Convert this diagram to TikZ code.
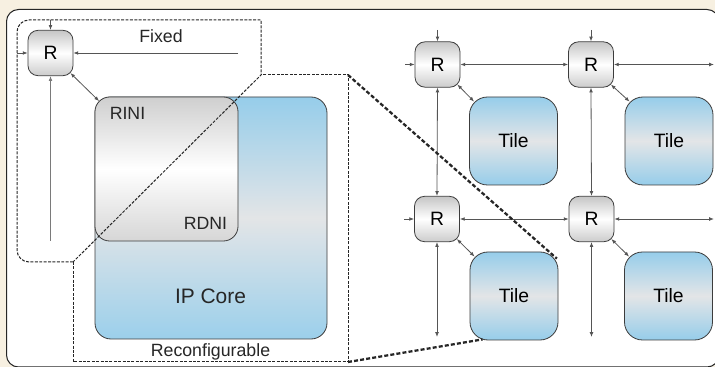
\documentclass[tikz,border=0pt]{standalone}
\usepackage{fontspec}
\setmainfont{Liberation Sans}
\usetikzlibrary{arrows.meta,calc}

\definecolor{cream}{HTML}{F7F0E1}
\definecolor{coreblue}{HTML}{96CDEA}
\definecolor{corelight}{HTML}{E3E5E7}
\definecolor{edgegray}{HTML}{3C3C3C}
\definecolor{wiregray}{HTML}{555555}
\definecolor{palewire}{HTML}{7A7A7A}

\begin{document}
\begin{tikzpicture}[x=0.75pt,y=-0.75pt,
  router/.style={draw=edgegray, line width=0.6pt, rounded corners=7.5pt,
    minimum width=33.75pt, minimum height=34pt, inner sep=0pt,
    top color=gray!45, bottom color=gray!40, middle color=white,
    font=\fontsize{14.5}{17}\selectfont},
  tilebox/.style={draw=edgegray, line width=0.6pt, rounded corners=13.5pt,
    minimum width=66pt, minimum height=66pt, inner sep=0pt,
    top color=coreblue, bottom color=coreblue, middle color=corelight,
    font=\fontsize{14.5}{17}\selectfont},
  corebox/.style={draw=edgegray, line width=0.6pt, rounded corners=12pt,
    minimum width=174pt, minimum height=181.5pt, inner sep=0pt,
    top color=coreblue, bottom color=coreblue!95!white, middle color=corelight},
  nibox/.style={draw=edgegray, line width=0.6pt, rounded corners=11pt,
    minimum width=107.25pt, minimum height=108pt, inner sep=0pt,
    top color=gray!38, bottom color=gray!32, middle color=white},
  label/.style={inner sep=0pt, text=black!85, font=\fontsize{13.3}{16}\selectfont},
  bigtext/.style={inner sep=0pt, text=black!85, font=\fontsize{15.7}{18}\selectfont},
  wire/.style={draw=wiregray, line width=0.6pt},
  one/.style={wire, -{Latex[length=3.6pt,width=2.8pt]}},
  two/.style={wire, {Latex[length=3.6pt,width=2.8pt]}-{Latex[length=3.6pt,width=2.8pt]}},
  region/.style={draw=black!85, line width=0.75pt, dash pattern=on 2.2pt off 1.1pt},
  zoomline/.style={draw=black!85, line width=1.7pt, dash pattern=on 3pt off 1.6pt}
]
\useasboundingbox (0,0) rectangle (715,367);
\clip (0,0) rectangle (715,367);

% page background and white panel
\fill[cream] (0,0) rectangle (715,367);
\draw[fill=white, draw=black!85, line width=0.75pt, rounded corners=9pt]
  (6.5,9.5) rectangle (719,367);

% ---------------- left: one tile in detail ----------------
\node[corebox] (ipcore) at (211,218) {};
\node[nibox] (rini) at (166.5,169) {};
\node[label] (rinitext) at (127.5,113) {RINI};
\node[label] (rdnitext) at (205.5,223) {RDNI};
\node[bigtext] (iptext) at (210.5,296.5) {IP Core};

\node[router] (r0) at (50.5,53) {R};

% region outlines
\coordinate (fa) at (17,20);
\coordinate (fb) at (261,20);
\coordinate (fc) at (261,75);
\coordinate (fd) at (73,262);
\coordinate (ge) at (73,362);
\coordinate (gf) at (348,362);
\coordinate (gg) at (348,75);

\draw[region, rounded corners=9pt] (fd) -- (17,262) -- (fa) [sharp corners] -- (fb) -- (fc) -- cycle;
\draw[region] (fd) -- (ge) -- (gf) -- (gg) -- (fc);

\node[label] (fixedtext) at (161,36) {Fixed};
\node[label] (recontext) at (210.5,352) {Reconfigurable};

% router wiring of the detailed tile
\coordinate (r0top) at (50.5,20);
\coordinate (r0left) at (17,53);
\coordinate (r0right) at (238,53);
\coordinate (r0down) at (50.5,241);
\draw[one] (r0top) -- (r0.north);
\draw[one] (r0left) -- (r0.west);
\draw[one] (r0right) -- (r0.east);
\draw[wire, draw=palewire, -{Latex[length=3.6pt,width=2.8pt]}] (r0down) -- (r0.south);
\draw[two] ($(r0.south east)+(-3,-3)$) -- ($(rini.north west)+(4.5,4.5)$);

% ---------------- right: 2x2 mesh ----------------
\node[router] (r1) at (437.5,64.5) {R};
\node[router] (r2) at (591,64.5) {R};
\node[router] (r3) at (437,219) {R};
\node[router] (r4) at (591.5,219) {R};

\node[tilebox] (t1) at (513.5,141) {Tile};
\node[tilebox] (t2) at (669,141) {Tile};
\node[tilebox] (t3) at (514,296) {Tile};
\node[tilebox] (t4) at (668.5,296) {Tile};

% free ends of mesh links
\coordinate (r1top) at (437.5,30);
\coordinate (r2top) at (591,30);
\coordinate (r1left) at (405,64.5);
\coordinate (r3left) at (404,219);
\coordinate (r2right) at (714,64.5);
\coordinate (r4right) at (714,219);
\coordinate (r3down) at (437,337);
\coordinate (r4down) at (591.5,337);

\draw[one] (r1top) -- (r1.north);
\draw[one] (r2top) -- (r2.north);
\draw[one] (r1left) -- (r1.west);
\draw[one] (r3left) -- (r3.west);
\draw[two] (r1.east) -- (r2.west);
\draw[two] (r3.east) -- (r4.west);
\draw[two] (r2.east) -- (r2right);
\draw[two] (r4.east) -- (r4right);
\draw[two] (r1.south) -- (r3.north);
\draw[two] (r2.south) -- (r4.north);
\draw[two] (r3.south) -- (r3down);
\draw[two] (r4.south) -- (r4down);

\foreach \r/\t in {r1/t1, r2/t2, r3/t3, r4/t4}
  \draw[two] ($(\r.south east)+(-3,-3)$) -- ($(\t.north west)+(5,5)$);

% zoom lines from the reconfigurable part to its tile
\draw[zoomline] (gg) -- ($(t3.north east)+(-1.5,7)$);
\draw[zoomline] (gf) -- ($(t3.south west)+(13,-1)$);
\end{tikzpicture}
\end{document}
